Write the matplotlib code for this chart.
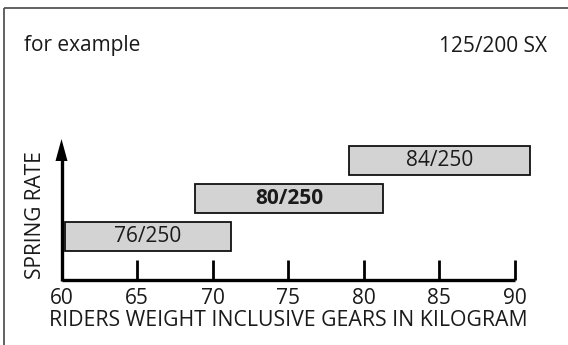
import matplotlib
matplotlib.use("Agg")
import matplotlib.pyplot as plt
from matplotlib.patches import Rectangle

# Data
spring_labels = ["76/250", "80/250", "84/250"]
weight_from = [60.2, 68.8, 79.0]
weight_to = [71.2, 81.3, 91.0]
bold_flags = [False, True, False]
tick_values = [60, 65, 70, 75, 80, 85, 90]
title_left = "for example"
title_right = "125/200 SX"
xlabel = "RIDERS WEIGHT INCLUSIVE GEARS IN KILOGRAM"
ylabel = "SPRING RATE"

plt.rcParams['font.family'] = ['Open Sans', 'DejaVu Sans']

W, H = 568, 345
fig = plt.figure(figsize=(W / 100, H / 100), dpi=100)
ax = fig.add_axes([0, 0, 1, 1])
ax.axis('off')

# x in data units (kg) mapped to pixels; y in pixels (top = 0)
px0, px1 = 61.5, 515.0
ppu = (px1 - px0) / (tick_values[-1] - tick_values[0])
ax.set_xlim(tick_values[0] - px0 / ppu, tick_values[0] + (W - px0) / ppu)
ax.set_ylim(H, 0)

def kg_per_px(p):
    return p / ppu

FS = 15
TXT = '#1a1a1a'

# frame (left + top)
fx = tick_values[0] - kg_per_px(px0 - 3.5)
ax.plot([fx, fx], [H, 8], color='#555555', lw=1.3, solid_capstyle='butt')
ax.plot([fx, ax.get_xlim()[1]], [8, 8], color='#555555', lw=1.3, solid_capstyle='butt')

# x axis line
axis_y = 280
ax.plot([tick_values[0], tick_values[-1]], [axis_y, axis_y], color='black', lw=2.4, solid_capstyle='butt')
# ticks
for t in tick_values[1:]:
    ax.plot([t, t], [axis_y, axis_y - 20], color='black', lw=2.0, solid_capstyle='butt')
for t in tick_values:
    ax.text(t, 298, str(t), ha='center', va='center', fontsize=FS, color=TXT)

# y axis with arrow
ax.plot([tick_values[0], tick_values[0]], [axis_y + 1.2, 158], color='black', lw=2.4, solid_capstyle='butt')
ax.fill([tick_values[0] - kg_per_px(6), tick_values[0], tick_values[0] + kg_per_px(6)],
        [161, 139, 161], color='black', lw=0)

# bars
bar_h = 29
row_center = [236.5, 198.5, 160.5]
for lab, a, b, bf, yc in zip(spring_labels, weight_from, weight_to, bold_flags, row_center):
    ax.add_patch(Rectangle((a, yc - bar_h / 2), b - a, bar_h, facecolor='#d3d3d3',
                           edgecolor='#111111', lw=1.3))
    ax.text((a + b) / 2, yc, lab, ha='center', va='center', fontsize=FS,
            fontweight='bold' if bf else 'normal', color=TXT)

# labels
ax.text(tick_values[0] + kg_per_px(227), 320, xlabel,
        ha='center', va='center', fontsize=15.3, color=TXT)
ax.text(tick_values[0] - kg_per_px(26), 215, ylabel, ha='center', va='center',
        rotation=90, fontsize=FS, color=TXT)

ax.text(tick_values[0] - kg_per_px(37), 46, title_left, ha='left', va='center',
        fontsize=FS, color=TXT)
ax.text(tick_values[0] + kg_per_px(486), 46, title_right, ha='right', va='center',
        fontsize=FS, color=TXT)

fig.savefig("out.png", dpi=100)
